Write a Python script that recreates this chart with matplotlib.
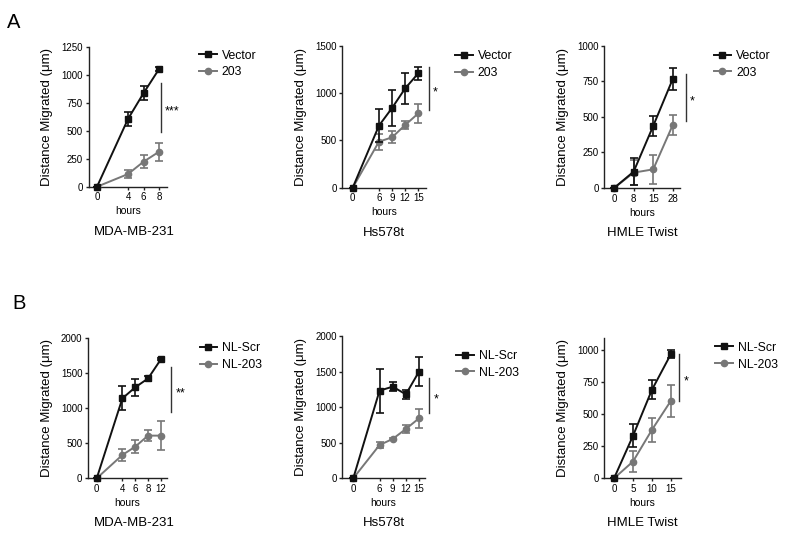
import matplotlib
matplotlib.use('Agg')
import matplotlib.pyplot as plt
from matplotlib.lines import Line2D

plt.rcParams['font.family'] = ['Liberation Sans', 'DejaVu Sans']

# ---- Panel A: Vector vs 203 ----
a1_hours = [0, 4, 6, 8]
a1_vector = [0, 605, 835, 1050]
a1_vector_sd = [0, 65, 65, 15]
a1_203 = [0, 113, 223, 312]
a1_203_sd = [0, 35, 60, 80]

a2_hours = [0, 6, 9, 12, 15]
a2_vector = [0, 655, 842, 1049, 1208]
a2_vector_sd = [0, 175, 190, 160, 70]
a2_203 = [0, 486, 532, 662, 785]
a2_203_sd = [0, 85, 65, 40, 100]

a3_hours = [0, 8, 15, 28]
a3_vector = [0, 115, 436, 766]
a3_vector_sd = [0, 95, 70, 75]
a3_203 = [0, 108, 131, 443]
a3_203_sd = [0, 87, 100, 68]

# ---- Panel B: NL-Scr vs NL-203 ----
b1_hours = [0, 4, 6, 8, 12]
b1_scr = [0, 1137, 1294, 1420, 1692]
b1_scr_sd = [0, 170, 125, 40, 15]
b1_203 = [0, 332, 450, 607, 607]
b1_203_sd = [0, 80, 90, 80, 210]

b2_hours = [0, 6, 9, 12, 15]
b2_scr = [0, 1232, 1288, 1180, 1499]
b2_scr_sd = [0, 310, 60, 60, 200]
b2_203 = [0, 468, 553, 693, 843]
b2_203_sd = [0, 45, 20, 50, 130]

b3_hours = [0, 5, 10, 15]
b3_scr = [0, 332, 692, 971]
b3_scr_sd = [0, 90, 75, 30]
b3_203 = [0, 131, 379, 606]
b3_203_sd = [0, 85, 95, 125]

cell_lines = ['MDA-MB-231', 'Hs578t', 'HMLE Twist']
stars = ['***', '*', '*', '**', '*', '*']

BLACK = '#111111'
GRAY = '#777777'
W, H = 785, 537


def px_rect(l, t, r, b):
    return [l / W, 1 - b / H, (r - l) / W, (b - t) / H]


def draw_panel(ax, hours, xpos, s1, e1, s2, e2, labels, xlim, ymax, ystep,
               ytop, sig, leg_xy, title, title_dx=0):
    ax.errorbar(xpos, s2, yerr=e2, color=GRAY, marker='o', ms=4.5, lw=1.4,
                elinewidth=1.2, capsize=3, capthick=1.2, zorder=3, clip_on=False)
    ax.errorbar(xpos, s1, yerr=e1, color=BLACK, marker='s', ms=4.8, lw=1.4,
                elinewidth=1.2, capsize=3, capthick=1.2, zorder=4, clip_on=False)
    ax.set_xlim(*xlim)
    ax.set_ylim(0, ytop)
    ax.set_xticks(xpos)
    ax.set_xticklabels([str(h) for h in hours])
    ax.set_yticks(range(0, ymax + 1, ystep))
    for s in ['top', 'right']:
        ax.spines[s].set_visible(False)
    for s in ['left', 'bottom']:
        ax.spines[s].set_linewidth(1.0)
        ax.spines[s].set_color('#222222')
    ax.tick_params(axis='both', labelsize=7, length=2.5, width=1.0, pad=1.5,
                   color='#222222')
    ax.set_xlabel('hours', fontsize=7.5, labelpad=3)
    ax.set_ylabel('Distance Migrated (\u03bcm)', fontsize=9.5, labelpad=6)

    # significance bar
    sx, y0, y1 = sig
    ax.plot([sx, sx], [y0, y1], color='#333333', lw=1.0, clip_on=False)
    ax.annotate(labels[2], xy=(sx, (y0 + y1) / 2), xytext=(3, -5),
                textcoords='offset points', fontsize=9, va='baseline',
                ha='left', annotation_clip=False)

    handles = [Line2D([], [], color=BLACK, marker='s', ms=4.8, lw=1.4),
               Line2D([], [], color=GRAY, marker='o', ms=4.5, lw=1.4)]
    ax.legend(handles, labels[:2], loc='center left', frameon=False,
              bbox_to_anchor=(leg_xy[0] / W, 1 - leg_xy[1] / H),
              bbox_transform=ax.figure.transFigure, borderpad=0,
              borderaxespad=0, handlelength=1.45, handletextpad=0.4,
              labelspacing=0.4, fontsize=8.8)

    ax.annotate(title, xy=(0.5, 0), xycoords='axes fraction',
                xytext=(title_dx, -45), textcoords='offset pixels',
                ha='center', va='center', fontsize=9.5)


fig = plt.figure(figsize=(W / 100, H / 100), dpi=100)

a_labels_1 = ['Vector', '203', stars[0]]
a_labels_2 = ['Vector', '203', stars[1]]
a_labels_3 = ['Vector', '203', stars[2]]
b_labels_1 = ['NL-Scr', 'NL-203', stars[3]]
b_labels_2 = ['NL-Scr', 'NL-203', stars[4]]
b_labels_3 = ['NL-Scr', 'NL-203', stars[5]]

ax = fig.add_axes(px_rect(88.5, 46.7, 167, 186.7))
draw_panel(ax, a1_hours, a1_hours, a1_vector, a1_vector_sd, a1_203, a1_203_sd,
           a_labels_1, (-1.1, 9.03), 1250, 250, 1250, (8.22, 490, 925),
           (199, 64), cell_lines[0], title_dx=7)

ax = fig.add_axes(px_rect(342.3, 45.7, 425.7, 187.7))
draw_panel(ax, a2_hours, a2_hours, a2_vector, a2_vector_sd, a2_203, a2_203_sd,
           a_labels_2, (-2.38, 16.7), 1500, 500, 1500, (17.45, 820, 1278),
           (455, 64.5), cell_lines[1])

ax = fig.add_axes(px_rect(604.3, 45.7, 680, 188))
draw_panel(ax, a3_hours, list(range(len(a3_hours))), a3_vector, a3_vector_sd,
           a3_203, a3_203_sd, a_labels_3, (-0.5, 3.37), 1000, 250, 1000,
           (3.66, 471, 799), (713.5, 64.3), cell_lines[2])

ax = fig.add_axes(px_rect(88, 337.7, 167.3, 478.3))
draw_panel(ax, b1_hours, [0, 2, 3, 4, 5], b1_scr, b1_scr_sd, b1_203, b1_203_sd,
           b_labels_1, (-0.68, 5.5), 2000, 500, 2000, (5.8, 947, 1587),
           (199.5, 356.7), cell_lines[0], title_dx=7)

ax = fig.add_axes(px_rect(342.3, 336, 425, 478.3))
draw_panel(ax, b2_hours, b2_hours, b2_scr, b2_scr_sd, b2_203, b2_203_sd,
           b_labels_2, (-2.5, 16.37), 2000, 500, 2000, (17.3, 914, 1406),
           (456, 364.3), cell_lines[1])

ax = fig.add_axes(px_rect(604.3, 337.7, 680.7, 478.3))
draw_panel(ax, b3_hours, b3_hours, b3_scr, b3_scr_sd, b3_203, b3_203_sd,
           b_labels_3, (-2.57, 17.6), 1000, 250, 1100, (17.2, 606, 972),
           (715, 356.2), cell_lines[2])

fig.text(7 / W, 1 - 28.3 / H, 'A', fontsize=14.5, ha='left', va='baseline')
fig.text(12 / W, 1 - 309.3 / H, 'B', fontsize=14.5, ha='left', va='baseline')

fig.savefig('out.png', dpi=100)
